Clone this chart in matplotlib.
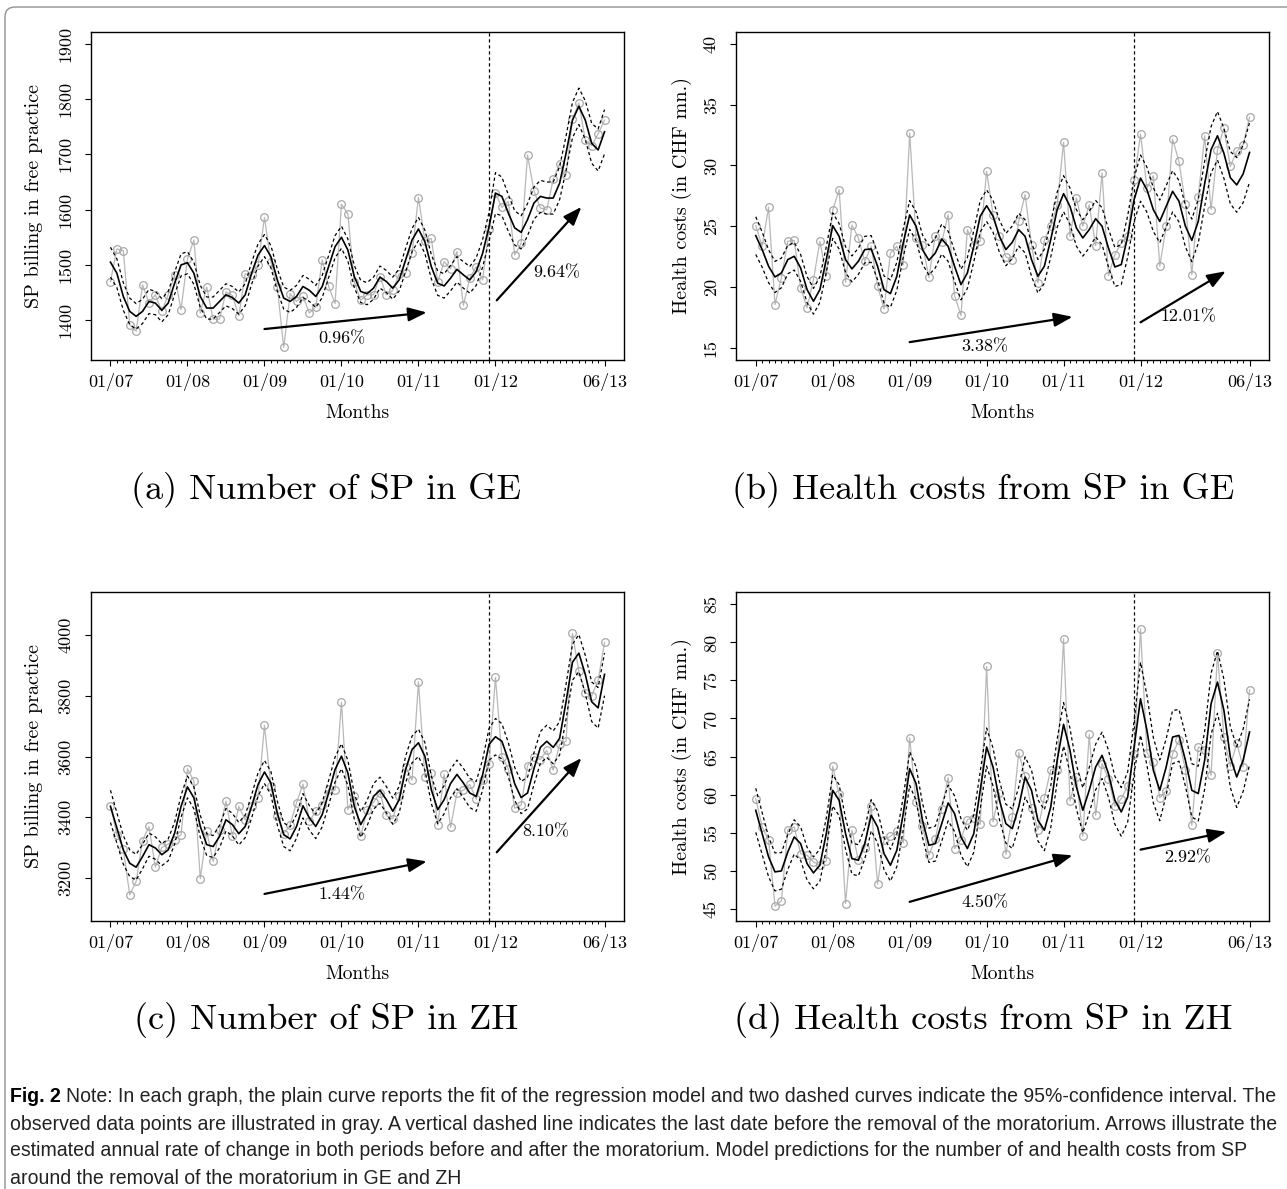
import numpy as np
import matplotlib
matplotlib.use('Agg')
import matplotlib.pyplot as plt
from matplotlib.patches import FancyBboxPatch

plt.rcParams['font.family'] = 'cmr10'
plt.rcParams['mathtext.fontset'] = 'cm'
plt.rcParams['axes.formatter.use_mathtext'] = True

# x axis: months since 01/2007
tick_months = [0, 12, 24, 36, 48, 60, 77]
tick_labels = ['01/07', '01/08', '01/09', '01/10', '01/11', '01/12', '06/13']
break_month = 59  # 12/11, last month before removal of the moratorium

# (a) number of SP in GE
ge_sp_obs = [1470, 1529, 1526, 1392, 1380, 1464, 1431, 1446, 1416, 1446,
             1481, 1419, 1511, 1545, 1413, 1460, 1402, 1402, 1451, 1445,
             1408, 1484, 1482, 1500, 1586, 1505, 1460, 1351, 1448, 1434,
             1443, 1413, 1424, 1509, 1461, 1430, 1610, 1592, 1469, 1436,
             1446, 1446, 1479, 1446, 1454, 1484, 1485, 1521, 1622, 1544,
             1548, 1469, 1506, 1493, 1524, 1427, 1476, 1497, 1473, 1565,
             1630, 1604, 1615, 1518, 1539, 1699, 1634, 1603, 1600, 1655,
             1683, 1663, 1764, 1793, 1726, 1716, 1737, 1762]
ge_sp_fit = [1505, 1485, 1443, 1416, 1407, 1416, 1434, 1431, 1418, 1431,
             1467, 1500, 1504, 1485, 1443, 1422, 1422, 1434, 1446, 1441,
             1431, 1446, 1485, 1518, 1535, 1515, 1473, 1440, 1434, 1443,
             1461, 1454, 1443, 1461, 1497, 1533, 1550, 1527, 1479, 1452,
             1448, 1458, 1478, 1470, 1458, 1473, 1509, 1545, 1565, 1542,
             1497, 1467, 1462, 1476, 1492, 1482, 1473, 1488, 1521, 1569,
             1630, 1624, 1594, 1567, 1559, 1582, 1612, 1624, 1621, 1621,
             1648, 1702, 1762, 1787, 1762, 1720, 1708, 1741]
ge_sp_ci = [27, 26, 25, 24, 23, 22, 22, 21, 21, 21,
            20, 20, 20, 20, 20, 20, 20, 20, 20, 20,
            20, 20, 20, 20, 20, 20, 20, 20, 20, 20,
            20, 20, 20, 20, 20, 20, 20, 20, 20, 20,
            20, 20, 20, 20, 20, 20, 21, 21, 21, 21,
            22, 22, 22, 23, 23, 24, 24, 25, 25, 26,
            37, 35, 33, 31, 30, 29, 29, 29, 29, 29,
            30, 31, 32, 33, 35, 36, 38, 40]

# (b) health costs from SP in GE
ge_cost_obs = [25.05, 23.35, 26.56, 18.56, 20.75, 23.76, 23.84, 19.93, 18.29, 20.61,
               23.76, 20.94, 26.31, 28.00, 20.39, 25.10, 24.04, 22.12, 23.35, 20.07,
               18.20, 22.80, 23.35, 21.85, 32.66, 24.04, 23.49, 20.80, 24.23, 23.68,
               25.95, 19.30, 17.66, 24.72, 23.43, 23.76, 29.51, 25.95, 24.23, 22.48,
               22.26, 25.40, 27.60, 23.49, 20.34, 23.84, 25.00, 26.77, 31.90, 24.17,
               27.32, 25.00, 26.77, 23.41, 29.38, 20.94, 22.67, 23.63, 24.23, 28.77,
               32.58, 28.14, 29.16, 21.71, 25.00, 32.17, 30.33, 26.83, 21.02, 27.38,
               32.44, 26.36, 31.29, 33.07, 29.92, 31.16, 31.70, 33.98]
ge_cost_fit = [24.23, 23.08, 21.71, 20.83, 21.16, 22.26, 22.53, 21.57, 19.79, 18.83,
               19.79, 22.26, 25.05, 24.17, 22.26, 21.49, 22.12, 23.08, 23.13, 21.71,
               19.79, 19.46, 20.89, 23.63, 25.93, 25.00, 23.08, 22.20, 22.80, 23.95,
               23.35, 21.71, 20.20, 21.16, 23.35, 25.82, 26.69, 25.82, 24.17, 23.08,
               23.68, 24.72, 24.17, 22.26, 20.89, 21.71, 23.90, 26.36, 27.68, 26.64,
               24.86, 24.04, 24.72, 25.62, 25.00, 23.21, 21.65, 21.85, 24.17, 27.19,
               28.96, 28.00, 26.36, 25.40, 26.64, 27.87, 27.05, 25.00, 23.84, 25.40,
               28.50, 31.30, 32.44, 31.00, 29.00, 28.40, 29.30, 31.07]
ge_cost_ci = [1.55, 1.45, 1.35, 1.28, 1.22, 1.17, 1.13, 1.10, 1.08, 1.06,
              1.05, 1.05, 1.05, 1.05, 1.06, 1.07, 1.08, 1.09, 1.10, 1.11,
              1.12, 1.13, 1.15, 1.16, 1.18, 1.19, 1.20, 1.21, 1.22, 1.23,
              1.24, 1.25, 1.26, 1.27, 1.28, 1.29, 1.30, 1.31, 1.32, 1.33,
              1.34, 1.35, 1.36, 1.37, 1.38, 1.40, 1.42, 1.45, 1.48, 1.50,
              1.50, 1.50, 1.50, 1.50, 1.52, 1.55, 1.60, 1.65, 1.70, 1.80,
              1.90, 1.85, 1.80, 1.75, 1.70, 1.70, 1.70, 1.70, 1.75, 1.80,
              1.85, 1.90, 2.00, 2.05, 2.15, 2.25, 2.35, 2.45]

# (c) number of SP in ZH
zh_sp_obs = [3438, 3343, 3296, 3145, 3189, 3323, 3370, 3236, 3301, 3312,
             3326, 3343, 3560, 3519, 3198, 3354, 3255, 3357, 3453, 3337,
             3436, 3392, 3436, 3464, 3702, 3502, 3403, 3346, 3376, 3448,
             3509, 3387, 3420, 3442, 3493, 3489, 3779, 3425, 3469, 3337,
             3425, 3450, 3480, 3406, 3395, 3471, 3566, 3522, 3846, 3533,
             3546, 3374, 3541, 3367, 3480, 3489, 3508, 3460, 3522, 3574,
             3860, 3600, 3560, 3430, 3440, 3570, 3600, 3590, 3620, 3555,
             3640, 3650, 4005, 3880, 3810, 3800, 3850, 3975]
zh_sp_fit = [3436, 3365, 3293, 3249, 3236, 3271, 3310, 3299, 3277, 3293,
             3348, 3436, 3500, 3464, 3370, 3310, 3304, 3337, 3392, 3376,
             3346, 3370, 3436, 3508, 3549, 3513, 3414, 3343, 3329, 3370,
             3438, 3398, 3370, 3409, 3480, 3557, 3601, 3546, 3436, 3376,
             3414, 3469, 3489, 3458, 3420, 3458, 3557, 3623, 3645, 3601,
             3491, 3425, 3458, 3511, 3541, 3513, 3480, 3469, 3540, 3640,
             3665, 3650, 3590, 3510, 3465, 3480, 3560, 3630, 3650, 3630,
             3660, 3780, 3910, 3940, 3870, 3780, 3760, 3870]
zh_sp_ci = [53, 50, 47, 44, 42, 40, 38, 37, 36, 36,
            36, 36, 36, 36, 36, 36, 36, 37, 37, 37,
            37, 37, 38, 38, 38, 38, 39, 39, 39, 39,
            40, 40, 40, 40, 41, 41, 41, 41, 42, 42,
            42, 42, 43, 43, 43, 44, 44, 44, 45, 45,
            45, 46, 46, 47, 47, 48, 48, 49, 50, 52,
            60, 58, 56, 54, 53, 52, 52, 52, 53, 54,
            55, 57, 59, 61, 63, 65, 67, 70]

# (d) health costs from SP in ZH
zh_cost_obs = [59.46, 55.73, 53.98, 45.31, 46.00, 55.38, 55.73, 52.23, 52.01, 51.13,
               50.70, 51.27, 63.71, 60.03, 45.66, 55.30, 51.35, 53.02, 58.45, 48.20,
               54.07, 54.50, 55.20, 53.67, 67.48, 59.02, 55.82, 52.01, 54.20, 58.14,
               62.22, 52.89, 54.07, 56.70, 56.96, 56.08, 76.85, 56.39, 60.20, 52.14,
               57.05, 65.50, 62.39, 58.28, 55.38, 59.59, 63.27, 63.27, 80.49, 59.15,
               62.30, 54.50, 67.91, 57.27, 64.06, 62.09, 58.45, 59.46, 61.12, 65.28,
               81.80, 65.50, 64.28, 59.59, 60.47, 65.37, 67.12, 63.27, 55.95, 66.25,
               65.90, 62.52, 78.60, 67.56, 63.71, 66.77, 63.62, 73.78]
zh_cost_fit = [57.92, 54.86, 51.79, 49.82, 49.95, 52.45, 54.42, 53.54, 50.91, 49.69,
               50.70, 54.86, 60.55, 59.24, 54.86, 51.57, 51.35, 53.54, 57.27, 55.73,
               52.23, 50.70, 52.67, 57.49, 63.40, 61.43, 56.61, 53.32, 53.54, 56.17,
               58.89, 57.49, 54.42, 52.89, 54.86, 60.55, 66.25, 63.62, 59.24, 56.17,
               55.51, 58.36, 62.30, 60.55, 56.61, 55.30, 58.36, 64.50, 69.23, 65.81,
               61.00, 57.92, 60.55, 63.62, 65.15, 62.74, 59.24, 57.71, 59.68, 66.25,
               72.60, 68.44, 63.18, 60.55, 63.62, 67.56, 67.78, 64.50, 60.55, 60.12,
               64.50, 71.94, 74.79, 71.07, 64.93, 62.30, 64.50, 68.22]
zh_cost_ci = [2.90, 2.75, 2.60, 2.50, 2.40, 2.30, 2.25, 2.20, 2.15, 2.10,
              2.10, 2.05, 2.05, 2.05, 2.05, 2.05, 2.05, 2.05, 2.05, 2.10,
              2.10, 2.10, 2.15, 2.15, 2.20, 2.20, 2.25, 2.25, 2.30, 2.30,
              2.35, 2.35, 2.40, 2.40, 2.45, 2.45, 2.50, 2.50, 2.55, 2.55,
              2.60, 2.60, 2.65, 2.65, 2.70, 2.70, 2.75, 2.80, 2.85, 2.90,
              2.90, 2.95, 3.00, 3.00, 3.05, 3.10, 3.15, 3.20, 3.30, 3.40,
              4.80, 4.60, 4.30, 4.00, 3.70, 3.50, 3.40, 3.40, 3.50, 3.60,
              3.80, 4.00, 4.10, 4.10, 4.00, 4.00, 4.10, 4.30]

# annual rate arrows: (start month, start value, end month, end value, text month, text value, label)
ge_sp_arrows = [(24, 1384, 49.3, 1414, 36, 1366, '0.96%'),
                (60.2, 1436, 73.4, 1605, 69.6, 1487, '9.64%')]
ge_cost_arrows = [(24, 15.47, 49.4, 17.55, 35.7, 15.14, '3.38%'),
                  (60, 17.1, 73.3, 21.3, 67.4, 17.6, '12.01%')]
zh_sp_arrows = [(24, 3148, 49.3, 3255, 36, 3145, '1.44%'),
                (60.2, 3285, 73.4, 3595, 67.9, 3352, '8.10%')]
zh_cost_arrows = [(24, 45.88, 49.4, 52.0, 35.7, 45.74, '4.50%'),
                  (60, 52.75, 73.4, 55.08, 67.4, 51.7, '2.92%')]

W, H = 1287, 1189
fig = plt.figure(figsize=(W / 100, H / 100), dpi=100)

def px_axes(left, right, top, bottom):
    return fig.add_axes([left / W, 1 - bottom / H, (right - left) / W, (bottom - top) / H])

def draw_panel(ax, obs, fit, ci, ylim, yticks, ylabel, arrows, ylab_x):
    months = np.arange(len(obs))
    fit = np.array(fit)
    ci = np.array(ci)
    ax.plot(months, obs, color='#b8b8b8', lw=0.9, marker='o', ms=5.5,
            mfc='none', mec='#a8a8a8', mew=0.9, zorder=2)
    ax.plot(months, fit, color='black', lw=1.2, zorder=3)
    ax.plot(months, fit + ci, color='black', lw=0.9, ls=(0, (2.6, 2.2)), zorder=3)
    ax.plot(months, fit - ci, color='black', lw=0.9, ls=(0, (2.6, 2.2)), zorder=3)
    ax.axvline(break_month, color='black', lw=0.9, ls=(0, (2.6, 2.2)), zorder=1)
    for x0, y0, x1, y1, tx, ty, lab in arrows:
        ax.annotate('', xy=(x1, y1), xytext=(x0, y0),
                    arrowprops=dict(arrowstyle='-|>,head_length=0.8,head_width=0.3',
                                    mutation_scale=14, lw=1.6, color='black',
                                    shrinkA=0, shrinkB=0))
        ax.text(tx, ty, lab, ha='center', va='center', fontsize=13)
    ax.set_xlim(-3.08, 80.08)
    ax.set_ylim(*ylim)
    ax.set_xticks(tick_months)
    ax.set_xticklabels(tick_labels)
    ax.set_xticks(np.arange(len(obs)), minor=True)
    ax.set_yticks(yticks)
    ax.set_yticklabels([str(t) for t in yticks], rotation=90, va='center')
    ax.tick_params(axis='both', which='major', labelsize=13, length=4.3, width=0.8)
    ax.tick_params(axis='x', which='major', pad=5)
    ax.tick_params(axis='y', which='major', pad=8)
    ax.tick_params(axis='x', which='minor', length=2.4, width=0.7)
    for s in ax.spines.values():
        s.set_linewidth(1.0)
    ax.set_xlabel('Months', fontsize=14)
    ax.xaxis.set_label_coords(0.5, -0.134)
    ax.set_ylabel(ylabel, fontsize=14.5)
    ax.yaxis.set_label_coords(ylab_x, 0.5)

ax_a = px_axes(90.7, 624.3, 31.7, 360)
ax_b = px_axes(736, 1269.3, 31.7, 360)
ax_c = px_axes(90.7, 624.3, 592.3, 920.7)
ax_d = px_axes(736, 1269.3, 592.3, 920.7)

draw_panel(ax_a, ge_sp_obs, ge_sp_fit, ge_sp_ci, (1328, 1922),
           [1400, 1500, 1600, 1700, 1800, 1900], 'SP billing in free practice', ge_sp_arrows, -0.089)
draw_panel(ax_b, ge_cost_obs, ge_cost_fit, ge_cost_ci, (14, 41),
           [15, 20, 25, 30, 35, 40], 'Health costs (in CHF mn.)', ge_cost_arrows, -0.083)
draw_panel(ax_c, zh_sp_obs, zh_sp_fit, zh_sp_ci, (3060, 4140),
           [3200, 3400, 3600, 3800, 4000], 'SP billing in free practice', zh_sp_arrows, -0.089)
draw_panel(ax_d, zh_cost_obs, zh_cost_fit, zh_cost_ci, (43.4, 86.6),
           [45, 50, 55, 60, 65, 70, 75, 80, 85], 'Health costs (in CHF mn.)', zh_cost_arrows, -0.083)

sub_captions = ['(a) Number of SP in GE', '(b) Health costs from SP in GE',
                '(c) Number of SP in ZH', '(d) Health costs from SP in ZH']
for (cx, cy), txt in zip([(326, 490), (983, 490), (326, 1020), (983, 1020)], sub_captions):
    fig.text(cx / W, 1 - cy / H, txt, fontsize=26, ha='center', va='center')

# figure caption
cap_font = ['Liberation Sans', 'DejaVu Sans']
cap_lines = ['Note: In each graph, the plain curve reports the fit of the regression model and two dashed curves indicate the 95%-confidence interval. The',
             'observed data points are illustrated in gray. A vertical dashed line indicates the last date before the removal of the moratorium. Arrows illustrate the',
             'estimated annual rate of change in both periods before and after the moratorium. Model predictions for the number of and health costs from SP',
             'around the removal of the moratorium in GE and ZH']
line_y = [1097, 1124, 1151, 1178]
fs = 13
bold = fig.text(10 / W, 1 - line_y[0] / H, 'Fig. 2', fontsize=fs, fontweight='bold',
                family=cap_font, ha='left', va='center')
texts = []
for ln, yy in zip(cap_lines, line_y):
    texts.append(fig.text(10 / W, 1 - yy / H, ln, fontsize=fs, family=cap_font,
                          ha='left', va='center', color='#222222'))
fig.canvas.draw()
r = fig.canvas.get_renderer()
gap = 0.28 * fs * 100 / 72
widths = [bold.get_window_extent(r).width + gap + texts[0].get_window_extent(r).width]
widths += [t.get_window_extent(r).width for t in texts[1:]]
fs2 = fs * (1272 - 10) / max(widths)
bold.set_fontsize(fs2)
for t in texts:
    t.set_fontsize(fs2)
fig.canvas.draw()
bw = bold.get_window_extent(r).width
texts[0].set_x((10 + bw + 0.28 * fs2 * 100 / 72) / W)

border = FancyBboxPatch((5 / W, -0.05), 1.2, 1 - 7 / H + 0.05,
                        boxstyle='round,pad=0,rounding_size=0.008',
                        transform=fig.transFigure, fill=False, ec='#909090', lw=1.0)
fig.add_artist(border)

fig.savefig('out.png', dpi=100)
